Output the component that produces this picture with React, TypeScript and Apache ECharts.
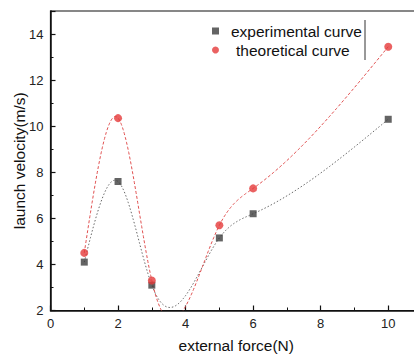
import React, { useEffect, useRef } from "react";
import * as echarts from "echarts";

const forces = [1, 2, 3, 5, 6, 10];
const experimental = [4.1, 7.6, 3.1, 5.15, 6.2, 10.3];
const theoretical = [4.5, 10.35, 3.3, 5.7, 7.3, 13.45];
const seriesNames = ["experimental curve", "theoretical curve"];
const xAxisName = "external force(N)";
const yAxisName = "launch velocity(m/s)";

// natural cubic spline through measured points (rendering only)
function naturalSpline(xs: number[], ys: number[]) {
  const n = xs.length;
  const h: number[] = [];
  for (let i = 0; i < n - 1; i++) h.push(xs[i + 1] - xs[i]);
  const a: number[] = new Array(n).fill(0);
  const b: number[] = new Array(n).fill(1);
  const c: number[] = new Array(n).fill(0);
  const r: number[] = new Array(n).fill(0);
  for (let i = 1; i < n - 1; i++) {
    a[i] = h[i - 1];
    b[i] = 2 * (h[i - 1] + h[i]);
    c[i] = h[i];
    r[i] = 6 * ((ys[i + 1] - ys[i]) / h[i] - (ys[i] - ys[i - 1]) / h[i - 1]);
  }
  const cp = new Array(n).fill(0);
  const rp = new Array(n).fill(0);
  cp[0] = c[0] / b[0];
  rp[0] = r[0] / b[0];
  for (let i = 1; i < n; i++) {
    const m = b[i] - a[i] * cp[i - 1];
    cp[i] = c[i] / m;
    rp[i] = (r[i] - a[i] * rp[i - 1]) / m;
  }
  const M = new Array(n).fill(0);
  M[n - 1] = rp[n - 1];
  for (let i = n - 2; i >= 0; i--) M[i] = rp[i] - cp[i] * M[i + 1];
  const pts: number[][] = [];
  for (let i = 0; i < n - 1; i++) {
    const steps = 60;
    for (let s = 0; s <= steps; s++) {
      if (i > 0 && s === 0) continue;
      const x = xs[i] + (h[i] * s) / steps;
      const A = xs[i + 1] - x;
      const B = x - xs[i];
      const y =
        (M[i] * A * A * A) / (6 * h[i]) +
        (M[i + 1] * B * B * B) / (6 * h[i]) +
        (ys[i] / h[i] - (M[i] * h[i]) / 6) * A +
        (ys[i + 1] / h[i] - (M[i + 1] * h[i]) / 6) * B;
      pts.push([x, y]);
    }
  }
  return pts;
}

function splineSeries(ys: number[], color: string, dash: number[]) {
  const curve = naturalSpline(forces, ys);
  return {
    type: "custom",
    silent: true,
    clip: true,
    z: 1,
    data: forces.map((x, i) => [x, ys[i]]),
    encode: { x: 0, y: 1 },
    renderItem: (params: any, api: any) => {
      if (params.dataIndex !== 0) return null;
      const points = curve.map((p) => api.coord(p));
      return {
        type: "polyline",
        shape: { points },
        style: { stroke: color, lineWidth: 1, lineDash: dash, fill: "none" },
      };
    },
  };
}

const FONT = "'Liberation Sans', Arial, sans-serif";

export default function App() {
  const ref = useRef<HTMLDivElement>(null);
  useEffect(() => {
    document.body.style.margin = "0";
    const chart = echarts.init(ref.current!, null, { renderer: "svg" });
    chart.setOption({
      animation: false,
      backgroundColor: "#fff",
      textStyle: { fontFamily: FONT },
      grid: {
        left: 50.5,
        top: 11,
        right: -8,
        bottom: 45.5,
        containLabel: false,
        outerBoundsMode: "none",
        show: true,
        borderColor: "#111",
        borderWidth: 1.2,
        backgroundColor: "transparent",
      },
      legend: {
        orient: "vertical",
        left: 212,
        top: 23,
        padding: 0,
        itemGap: 3,
        itemWidth: 7,
        itemHeight: 7,
        textStyle: {
          fontFamily: FONT,
          fontSize: 15.5,
          color: "#111",
          padding: [0, 0, 0, 7],
        },
        data: [
          { name: seriesNames[0], icon: "rect" },
          {
            name: seriesNames[1],
            icon: "circle",
            textStyle: { padding: [0, 0, 0, 12] },
          },
        ],
      },
      xAxis: {
        type: "value",
        min: 0,
        max: 11,
        interval: 2,
        name: xAxisName,
        nameLocation: "middle",
        nameGap: 27,
        nameMoveOverlap: false,
        nameTextStyle: { fontFamily: FONT, fontSize: 15.5, color: "#111" },
        axisLine: { show: true, onZero: false, lineStyle: { color: "#111", width: 1.5 } },
        axisTick: { show: true, inside: true, length: 5, lineStyle: { color: "#111", width: 1.2 } },
        minorTick: { show: true, splitNumber: 2, length: 3, lineStyle: { color: "#111", width: 1 } },
        axisLabel: {
          fontFamily: FONT,
          fontSize: 13,
          color: "#222",
          margin: 6,
          showMaxLabel: false,
          formatter: (v: number) => (Number.isInteger(v) ? String(v) : ""),
        },
        splitLine: { show: false },
      },
      yAxis: {
        type: "value",
        min: 2,
        max: 15,
        interval: 2,
        name: yAxisName,
        nameLocation: "middle",
        nameGap: 23,
        nameMoveOverlap: false,
        nameTextStyle: { fontFamily: FONT, fontSize: 15.5, color: "#111" },
        axisLine: { show: true, onZero: false, lineStyle: { color: "#111", width: 1.5 } },
        axisTick: { show: true, inside: true, length: 5, lineStyle: { color: "#111", width: 1.2 } },
        minorTick: { show: true, splitNumber: 2, length: 3, lineStyle: { color: "#111", width: 1 } },
        axisLabel: {
          fontFamily: FONT,
          fontSize: 13,
          color: "#222",
          margin: 7,
          showMaxLabel: false,
          formatter: (v: number) => (Number.isInteger(v) ? String(v) : ""),
        },
        splitLine: { show: false },
      },
      graphic: [
        {
          type: "line",
          shape: { x1: 365, y1: 20, x2: 365, y2: 60 },
          style: { stroke: "#333", lineWidth: 1 },
          z: 10,
        },
      ],
      series: [
        splineSeries(experimental, "#666", [1.5, 2]),
        splineSeries(theoretical, "#e05050", [3, 2]),
        {
          name: seriesNames[0],
          type: "scatter",
          symbol: "rect",
          symbolSize: 7,
          z: 3,
          itemStyle: { color: "#3d3d3d" },
          data: forces.map((x, i) => [x, experimental[i]]),
        },
        {
          name: seriesNames[1],
          type: "scatter",
          symbol: "circle",
          symbolSize: 8,
          z: 4,
          itemStyle: { color: "#e53a3a" },
          data: forces.map((x, i) => [x, theoretical[i]]),
        },
      ],
    });
    return () => chart.dispose();
  }, []);
  return <div ref={ref} style={{ width: 414, height: 356 }} />;
}
